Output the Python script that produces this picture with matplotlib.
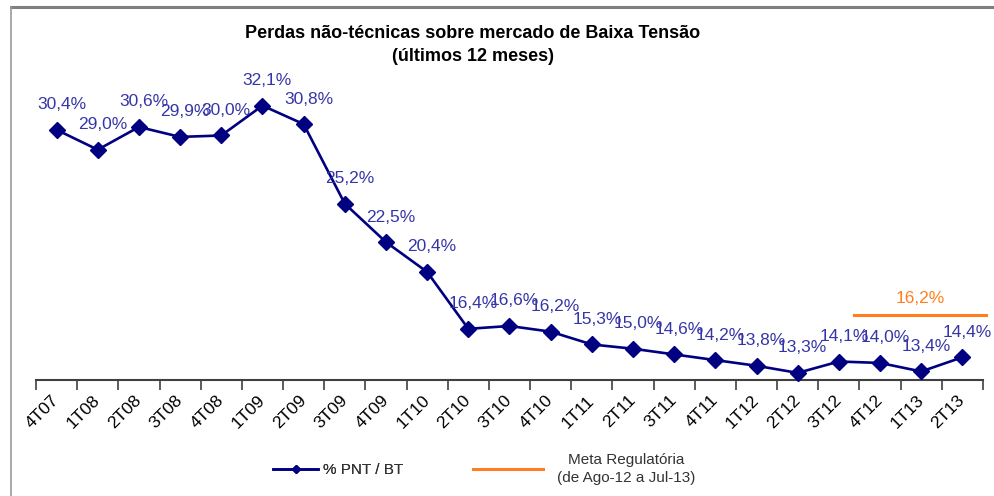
import matplotlib
matplotlib.use("Agg")
import matplotlib.pyplot as plt
from matplotlib.lines import Line2D

plt.rcParams['font.family'] = ['Liberation Sans', 'DejaVu Sans']

# dados
trimestres = ["4T07", "1T08", "2T08", "3T08", "4T08", "1T09", "2T09", "3T09", "4T09",
              "1T10", "2T10", "3T10", "4T10", "1T11", "2T11", "3T11", "4T11", "1T12",
              "2T12", "3T12", "4T12", "1T13", "2T13"]
pnt_bt = [30.4, 29.0, 30.6, 29.9, 30.0, 32.1, 30.8, 25.2, 22.5,
          20.4, 16.4, 16.6, 16.2, 15.3, 15.0, 14.6, 14.2, 13.8,
          13.3, 14.1, 14.0, 13.4, 14.4]
meta_valor = 16.2
meta_inicio = "3T12"
meta_fim = "2T13"

AZUL = "#000080"
AZUL_TXT = "#3535A8"
LARANJA = "#FF7F1E"

fig = plt.figure(figsize=(9.94, 4.96), dpi=100)
ax = fig.add_axes([36 / 994, 1 - 380 / 496, (983 - 36) / 994, (380 - 90) / 496])

x = list(range(len(trimestres)))
ln, = ax.plot(x, pnt_bt, color=AZUL, lw=1.9, marker='D', markersize=8.5,
              clip_on=False, zorder=3)

for xi, v in zip(x, pnt_bt):
    ax.annotate(f"{v:.1f}%".replace(".", ","), (xi, v), xytext=(5, 25),
                textcoords='offset pixels', ha='center', va='center',
                fontsize=12.5, color=AZUL_TXT)

ymin, ymax = 12.8, 33.2
ax.set_xlim(-0.5, len(trimestres) - 0.5)
ax.set_ylim(ymin, ymax)

# eixo X
ax.set_xticks([i - 0.5 for i in range(len(trimestres) + 1)])
ax.set_xticklabels([])
ax.set_xticks(x, minor=True)
ax.set_xticklabels(trimestres, minor=True, rotation=45, ha='right', va='center',
                   rotation_mode='anchor', fontsize=12.5)
ax.tick_params(axis='x', which='major', direction='out', length=7, width=1.2, color='#404040')
ax.tick_params(axis='x', which='minor', length=0, pad=13)
ax.set_yticks([])
for s in ['left', 'right', 'top']:
    ax.spines[s].set_visible(False)
ax.spines['bottom'].set_color('#404040')
ax.spines['bottom'].set_linewidth(1.5)

# meta regulatoria (eixo secundario)
ax2 = ax.twinx()
ax2.set_ylim(ymin - 1.17, ymax - 1.17)
ax2.axis('off')
i0 = trimestres.index(meta_inicio) + 0.36
i1 = trimestres.index(meta_fim) + 0.57
ml, = ax2.plot([i0, i1], [meta_valor, meta_valor], color=LARANJA, lw=2.2, clip_on=False)
ax2.annotate(f"{meta_valor:.1f}%".replace(".", ","), ((i0 + i1) / 2, meta_valor),
             xytext=(0, 17), textcoords='offset pixels', ha='center', va='center',
             fontsize=12.5, color=LARANJA)
ax2.set_xlim(ax.get_xlim())

fig.text(473 / 994, 1 - 45 / 496,
         "Perdas não-técnicas sobre mercado de Baixa Tensão\n(últimos 12 meses)",
         ha='center', va='center', fontsize=13, fontweight='bold', linespacing=1.4)

# legendas
leg1 = fig.legend([ln], ["% PNT / BT"], loc='center',
                  bbox_to_anchor=(338 / 994, 1 - 470 / 496), frameon=False,
                  fontsize=11, handlelength=3.0, handletextpad=0.3)
leg1.legend_handles[0].set_markersize(4)
leg2 = fig.legend([ml], ["Meta Regulatória\n(de Ago-12 a Jul-13)"], loc='center',
                  bbox_to_anchor=(584 / 994, 1 - 469 / 496), frameon=False,
                  fontsize=11, handlelength=4.6, handletextpad=0.9)
fig.add_artist(leg1)
for lg in (leg1, leg2):
    for t in lg.get_texts():
        t.set_color('#333333')
        t.set_multialignment('center')
        t.set_linespacing(1.45)

# moldura
fig.add_artist(Line2D([11 / 994, 1], [1 - 7 / 496, 1 - 7 / 496], transform=fig.transFigure,
                      color='#7f7f7f', lw=2.2))
fig.add_artist(Line2D([11 / 994, 11 / 994], [0, 1 - 7 / 496], transform=fig.transFigure,
                      color='#9a9a9a', lw=1.2))

fig.savefig("out.png", dpi=100)
